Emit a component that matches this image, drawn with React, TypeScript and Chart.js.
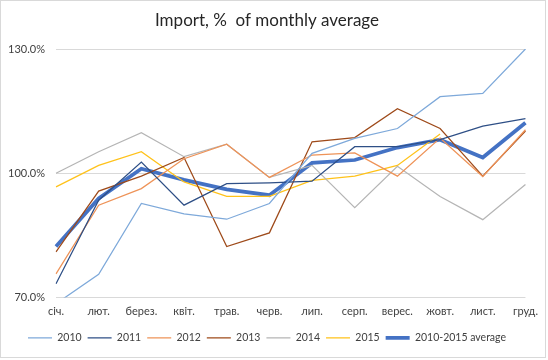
import React, { useEffect, useRef } from "react";
import { Chart, registerables } from "chart.js";

Chart.register(...registerables);

const months = ["січ.", "лют.", "берез.", "квіт.", "трав.", "черв.", "лип.", "серп.", "верес.", "жовт.", "лист.", "груд."];

const y2010 = [68.5, 75.6, 92.7, 90.2, 88.9, 92.7, 104.8, 108.4, 110.8, 118.5, 119.3, 130.0];
const y2011 = [73.3, 93.5, 102.7, 92.3, 97.5, 97.7, 98.1, 106.4, 106.4, 108.1, 111.4, 113.2];
const y2012 = [75.7, 92.3, 96.3, 103.5, 107.0, 99.0, 104.4, 104.9, 99.3, 108.5, 99.2, 110.5];
const y2013 = [81.0, 95.7, 99.3, 103.8, 82.3, 85.6, 107.6, 108.6, 115.6, 110.8, 99.3, 110.2];
const y2014 = [100.0, 105.2, 109.8, 104.0, 107.0, 99.0, 101.9, 91.7, 101.7, 94.4, 88.8, 97.3];
const y2015 = [96.7, 101.9, 105.2, 97.9, 94.4, 94.4, 98.3, 99.3, 101.9, 109.5, null, null];
const yAvg = [82.3, 93.9, 101.1, 98.4, 96.1, 94.7, 102.5, 103.2, 106.2, 108.1, 103.8, 112.2];

const FONT = "Lato, 'Liberation Sans', sans-serif";

export default function App() {
  const ref = useRef<HTMLCanvasElement | null>(null);

  useEffect(() => {
    if (!ref.current) return;
    const mk = (label: string, data: (number | null)[], color: string, w: number) => ({
      label,
      data,
      borderColor: color,
      backgroundColor: color,
      borderWidth: w,
      pointRadius: 0,
      pointHoverRadius: 0,
      tension: 0,
      fill: false,
      spanGaps: false,
    });
    const chart = new Chart(ref.current, {
      type: "line",
      data: {
        labels: months,
        datasets: [
          mk("2010", y2010, "#7EA9DA", 1.25),
          mk("2011", y2011, "#2E4F86", 1.25),
          mk("2012", y2012, "#EE9358", 1.25),
          mk("2013", y2013, "#9E4A1A", 1.25),
          mk("2014", y2014, "#B5B5B5", 1.25),
          mk("2015", y2015, "#FFC21A", 1.25),
          mk("2010-2015 average", yAvg, "#4472C4", 3.75),
        ],
      },
      options: {
        responsive: false,
        animation: false,
        layout: { padding: { left: 0, right: 12, top: 0, bottom: 4 } },
        plugins: {
          tooltip: { enabled: false },
          title: {
            display: true,
            text: "Import, %  of monthly average",
            color: "#262626",
            font: { family: FONT, size: 17, weight: "normal" },
            padding: { top: 9, bottom: 18.6 },
          },
          legend: {
            position: "bottom",
            labels: {
              usePointStyle: true,
              pointStyle: "line",
              pointStyleWidth: 24,
              color: "#404040",
              font: { family: FONT, size: 10.5 },
              padding: 6,
            },
          },
        },
        scales: {
          x: {
            grid: { display: false, drawTicks: false },
            border: { display: false },
            ticks: { color: "#404040", font: { family: FONT, size: 11 }, padding: 7, maxRotation: 0, autoSkip: false },
            afterFit: (s: any) => { s.height = 29; },
          },
          y: {
            min: 70,
            max: 130,
            grid: { color: "#D9D9D9", drawTicks: false },
            border: { display: false },
            ticks: {
              stepSize: 30,
              color: "#404040",
              font: { family: FONT, size: 11 },
              padding: 11,
              callback: (v: any) => Number(v).toFixed(1) + "%",
            },
            afterFit: (s: any) => { s.width = 55; },
          },
        },
      },
    });
    return () => chart.destroy();
  }, []);

  return (
    <div style={{ position: "absolute", left: 0, top: 0, width: 544, height: 356, border: "1px solid #D9D9D9", background: "#fff" }}>
      <canvas ref={ref} width={544} height={356} style={{ display: "block" }} />
    </div>
  );
}
